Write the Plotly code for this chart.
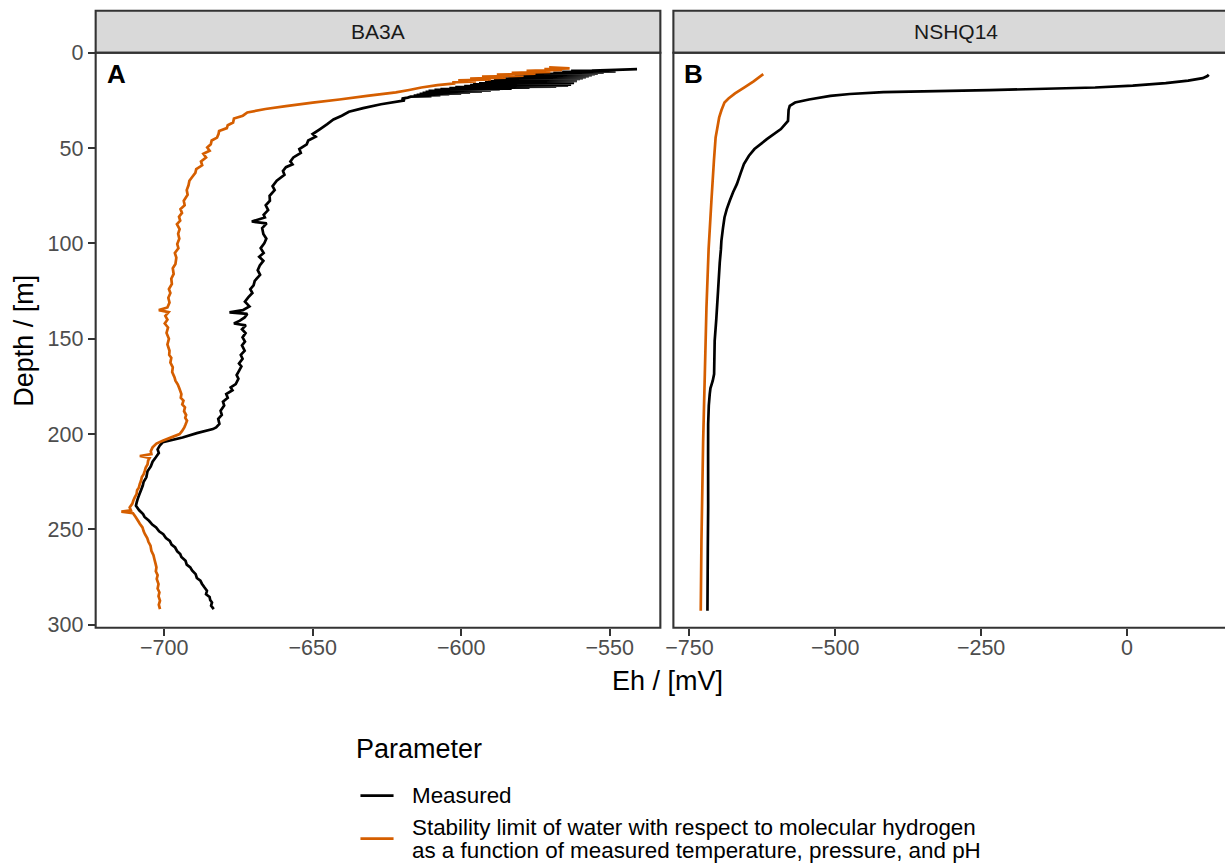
import plotly.graph_objects as go

# ---------------- data ----------------
ba3a_meas_depth = [8.6, 9.0, 9.4,
    9.5, 9.75, 10.0, 10.25, 10.5, 10.75, 11.0, 11.25, 11.5, 11.75, 12.0, 12.25, 12.5, 12.75,
    13.0, 13.25, 13.5, 13.75, 14.0, 14.25, 14.5, 14.75, 15.0, 15.25, 15.5, 15.75, 16.0, 16.25,
    16.5, 16.75, 17.0, 17.25, 17.5, 17.75, 18.0, 18.25, 18.5, 18.75, 19.0, 19.25, 19.5, 19.75,
    20.0, 20.25, 20.5, 20.75, 21.0, 21.25, 21.5, 21.75, 22.0, 22.25, 22.5, 22.75, 23.0, 23.5, 24,
    25, 27, 29, 30.9, 33, 35, 37.4, 40, 42.6, 44, 46, 48, 50.5, 52.5, 54.9, 57, 58.5, 60, 62, 64,
    67.1, 70, 72, 75, 77.6, 80, 82.5, 85, 86.4, 88.5, 89.5, 92, 95.1, 97.5, 100, 102.5, 105, 107,
    109.1, 111.5, 114, 116.5, 119.6, 122, 124, 126, 128.3, 130.5, 133, 135, 136.2, 137, 138.8,
    140.5, 142, 143, 145, 147, 149.3, 151.5, 153.5, 156.3, 158.5, 160.5, 163, 164.5, 166.8, 169,
    171, 173.8, 175.5, 177, 179, 181, 183, 185, 187.8, 190, 192, 194.7, 196.5, 197.4, 199.5,
    201.8, 204.3, 206.1, 208, 210, 212.2, 214.5, 217, 219.5, 222.7, 225, 227, 229.5, 231.5, 234,
    235.5, 237.6, 240, 242, 243.5, 245.5, 247.5, 249, 251, 252.5, 254.5, 256, 258, 259.5, 261.5,
    262.9, 264.5, 266.5, 268.5, 269.9, 271.5, 273.5, 275.5, 276.9, 278.5, 280.5, 282.2, 284,
    285.5, 287, 288.3, 290, 291.8]
ba3a_meas_eh = [-540.8, -548, -556,
    -563, -548, -566, -552, -569, -554, -575, -555, -577, -556, -579, -557, -582, -558,
    -584, -559, -586, -560, -588, -561, -589, -561, -591, -562, -592, -562, -594, -563,
    -596, -563, -597, -564, -599, -568, -602, -577, -604, -583, -607, -587, -609, -590,
    -611, -593, -612, -597, -613, -600, -614, -604, -615, -607, -616, -610, -617, -618, -620,
    -619, -627, -633, -637.8, -640.2, -643, -645.1, -647.5, -650, -649, -651.5, -652, -654.5, -654, -656.5, -657.5, -656.8, -659, -660, -659.5,
    -662.1, -663.5, -662.8, -664.5, -664.4, -665.8, -665, -666.5, -666.1, -670.5, -665.5, -667, -666.6, -665.6, -666.3, -667.5, -666.5, -668,
    -666.6, -667.8, -668.5, -667.7, -669.5, -669.9, -671, -670.3, -671.7, -672.8, -671.3, -673.5, -678, -672, -672.9,
    -674.5, -676.5, -672.5, -673.8, -672.6, -673.6, -672.8, -673.8, -672.9, -674.2, -673.6, -674.8, -674, -674.8, -675.6,
    -675, -675.9, -677.6, -677, -679.1, -678.6, -680.2, -679.8, -681, -680.6, -681.8, -681.4, -682.5, -683.6, -689,
    -693.8, -700.5, -701.5, -702.2, -701.8, -702.8, -703.9, -704.5, -705.6, -706, -706.9, -707.2, -707.8, -708.3, -708.9,
    -709.2, -709.5, -708.4, -707.1, -706.6, -705.1, -704, -702.7, -701.7, -700.3, -699.4, -698.1, -697.5, -696.3, -695.6,
    -694.6, -694.2, -692.8, -692.4, -691.2, -690.6, -689.4, -689, -687.8, -687.3, -686.4, -685.6, -685.9,
    -684.7, -684.5, -683.9, -684.2, -683.3]

ba3a_limit_depth = [7.7, 8.2, 8.6, 9.0, 9.5, 10, 10.5, 11, 11.5, 12, 12.5, 13, 13.5, 14, 14.5, 15,
    15.5, 16, 17, 18.2, 19.5, 20.8, 22.6, 24.5, 26.1, 28, 29.5, 31.3, 33, 34.5, 36.6, 38, 39.5, 41,
    42.6, 44.5, 46, 48, 49.7, 51.4, 53, 54.9, 57, 59, 61, 63, 65, 67.1, 69.5, 72, 74.5, 77.6, 80,
    82, 84, 86, 88, 89.9, 92.5, 95, 97.5, 100.3, 102.5, 105, 107.5, 110.8, 113, 116, 118.5, 121.3,
    124, 126, 128.5, 131, 133.6, 135, 136, 138, 140, 142, 144.1, 147, 150, 153, 156.3, 158.5, 160,
    162.5, 165, 167.5, 170.3, 172, 174, 176, 179, 181, 182.5, 184.5, 186, 188, 190, 191.5, 193,
    195, 196.5, 198.5, 200, 202, 203.5, 205, 207, 209, 210.5, 211.5, 212.5, 214, 216, 217.5, 219.2,
    221, 222.5, 224.5, 226.2, 228, 229.5, 231.5, 233.2, 235, 236.5, 238.5, 240, 240.7, 241.5,
    243.5, 245.5, 247, 249, 251, 252.4, 254.5, 256.5, 258.5, 261.2, 263.5, 265.5, 268, 269.9, 272,
    274, 276, 278.7, 281, 283, 285, 287.4, 289.5, 291.8]
ba3a_limit_eh = [-570.4, -563.5, -572, -566, -578, -570, -583, -575, -588, -579, -593, -585, -597, -590, -601, -595,
    -603, -602, -608, -613.4, -617.5, -622, -631.7, -641, -650, -659, -665.9, -672, -673.5, -676.5, -676.8, -678.6, -678.9, -681.5,
    -681.7, -682.2, -684, -684.3, -685.5, -684.7, -686.8, -685.9, -687.6, -687.2, -689.2, -689.5, -690.5, -691.5, -691.8, -692.4, -692.1, -693.4, -693.1,
    -694.5, -694, -695, -694.6, -695.7, -694.8, -695.3, -694.9, -695.6, -695.2, -696.4, -695.9, -696.2, -697.1, -696.8, -697.6, -697.4,
    -698.4, -697.9, -698.6, -698.2, -698.9, -701.8, -698.5, -699.6, -698.9, -699.8, -698.7, -699.2, -698.4, -698.9, -698.2, -698.3, -697.6,
    -697.9, -697.1, -697.3, -696.5, -696.2, -695.4, -694.9, -694.2, -694.4, -693.5, -693.9, -693, -693.3, -692.6, -692.9, -692.3,
    -692.8, -693.2, -694, -694.8, -698, -700.5, -702.6, -703.9, -704.5, -704.3, -708.2, -704.9, -705.4, -705.6, -706.2, -706.5,
    -706.9, -707.5, -707.8, -708.2, -708.5, -709.1, -709.3, -709.9, -710.4, -710.7, -711.6, -711.2, -714.4, -710.5,
    -709.6, -708.8, -708.2, -707.3, -706.9, -706.5, -705.7, -705.3, -704.6, -704.3, -703.6, -703.3, -702.9, -702.6, -702.8,
    -702.2, -702.5, -701.9, -702.2, -701.6, -701.9, -701.4, -701.8, -701.4]

nshq_meas_depth = [11.5, 12.2, 13.3, 14.6, 15.9, 17.2, 18.2, 19.6, 20.6, 21.6, 22.6, 24.5, 26.1, 27.8,
    30, 35.7, 40, 45.3, 50.5, 54, 58.4, 63, 68.9, 73, 77.6, 82, 86.4, 92, 98.6, 103, 110, 124.8,
    140, 151, 168.5, 172, 176, 179, 185, 194.7, 210, 238.5, 260, 292.7]
nshq_meas_eh = [140.3, 138, 130, 105, 66.5, 10, -54.5, -236, -417.6, -475, -508.4, -545, -568.9, -578,
    -580, -581, -593.2, -617.3, -638.5, -648, -656.6, -662, -668.7, -675, -680.9, -686, -689.9, -692.5,
    -695.2, -696, -698, -700.9, -704, -706.7, -707.7, -710, -714, -715.2, -716.8, -717.9, -718,
    -717.9, -718.5, -719.1]

nshq_limit_depth = [11.2, 15, 18, 21.3, 24, 26.1, 30, 33.9, 40, 44.4, 56.6, 77.6, 103, 133.6, 168.5,
    203.5, 256, 292.7]
nshq_limit_eh = [-623.4, -640, -655, -671.8, -683, -689.9, -695, -699, -702.5, -705.1, -708, -712.3,
    -717.1, -720.8, -723.6, -726.5, -729.4, -730.6]

panels = ["BA3A", "NSHQ14"]
panel_tags = ["A", "B"]
series_names = ["Measured",
                "Stability limit of water with respect to molecular hydrogen",
                "as a function of measured temperature, pressure, and pH"]
series_colors = ["#000000", "#D55E00"]
x1_ticks = [-700, -650, -600, -550]
x2_ticks = [-750, -500, -250, 0]
y_ticks = [0, 50, 100, 150, 200, 250, 300]

# ---------------- geometry ----------------
W, H = 1225, 863
# target pixel positions -> paper fractions (corrected for the observed page placement)
KX, OX = 0.9905, 8.6
KY, OY = 0.977, 10.2
def px(x): return ((x - OX) / KX) / W
def py(y): return 1 - ((y - OY) / KY) / H

P1 = (96, 659)
P2 = (672, 1235)
PT, PB = 52, 627
ST = 10

FONT = "Liberation Sans, Arial, Helvetica, sans-serif"
BORDER = "#333333"
LW = 2.1
DLW = 2.7

fig = go.Figure()
data = [
    (ba3a_meas_eh, ba3a_meas_depth, 0, "x", "y"),
    (ba3a_limit_eh, ba3a_limit_depth, 1, "x", "y"),
    (nshq_meas_eh, nshq_meas_depth, 0, "x2", "y2"),
    (nshq_limit_eh, nshq_limit_depth, 1, "x2", "y2"),
]
for xs, ys, si, xa, ya in data:
    fig.add_trace(go.Scatter(x=xs, y=ys, mode="lines", xaxis=xa, yaxis=ya,
                             line=dict(color=series_colors[si], width=DLW, simplify=False),
                             name=series_names[si], showlegend=False, hoverinfo="skip"))

tickstyle = dict(ticks="outside", ticklen=7, tickwidth=LW, tickcolor=BORDER,
                 showgrid=False, zeroline=False, showline=False,
                 tickfont=dict(family=FONT, size=21.5, color="#4D4D4D"))

x2_right = -777.5 + (1225 - 672) / 0.5848

fig.update_layout(
    width=W, height=H, margin=dict(l=0, r=0, t=0, b=0),
    paper_bgcolor="white", plot_bgcolor="white", showlegend=False,
    xaxis=dict(domain=[px(P1[0]), px(P1[1])], range=[-723.06, -532.95], anchor="y",
               tickvals=x1_ticks, ticklabelstandoff=-6, **tickstyle),
    xaxis2=dict(domain=[px(P2[0]), 1.0], range=[-777.5, x2_right], anchor="y2",
                tickvals=x2_ticks, ticklabelstandoff=-6, **tickstyle),
    yaxis=dict(domain=[py(PB), py(PT)], range=[301.57, 0], anchor="x",
               tickvals=y_ticks, ticklabelstandoff=0, **tickstyle),
    yaxis2=dict(domain=[py(PB), py(PT)], range=[301.57, 0], anchor="x2",
                showticklabels=False, ticks="", showgrid=False, zeroline=False, matches="y"),
)

shapes = []
annotations = []
for (x0, x1), name, tag in zip([P1, P2], panels, panel_tags):
    shapes.append(dict(type="rect", xref="paper", yref="paper", x0=px(x0), x1=px(x1),
                       y0=py(PT), y1=py(ST), fillcolor="#D9D9D9",
                       line=dict(color=BORDER, width=LW), layer="below"))
    shapes.append(dict(type="rect", xref="paper", yref="paper", x0=px(x0), x1=px(x1),
                       y0=py(PB), y1=py(PT), fillcolor="rgba(0,0,0,0)",
                       line=dict(color=BORDER, width=LW), layer="above"))
    annotations.append(dict(text=name, xref="paper", yref="paper", x=px((x0 + x1) / 2),
                            y=py((ST + PT) / 2), showarrow=False, xanchor="center", yanchor="middle",
                            font=dict(family=FONT, size=21, color="#1A1A1A")))
    annotations.append(dict(text="<b>" + tag + "</b>", xref="paper", yref="paper", x=px(x0 + 9),
                            y=py(73), showarrow=False, xanchor="left", yanchor="middle",
                            font=dict(family=FONT, size=26, color="black")))

annotations.append(dict(text="Eh / [mV]", xref="paper", yref="paper", x=px(666), y=py(680),
                        showarrow=False, xanchor="center", yanchor="middle",
                        font=dict(family=FONT, size=27, color="black")))
annotations.append(dict(text="Depth / [m]", xref="paper", yref="paper", x=px(25), y=py(339.5),
                        showarrow=False, xanchor="center", yanchor="middle", textangle=-90,
                        font=dict(family=FONT, size=27, color="black")))

# legend
annotations.append(dict(text="Parameter", xref="paper", yref="paper", x=px(354), y=py(748),
                        showarrow=False, xanchor="left", yanchor="middle",
                        font=dict(family=FONT, size=27, color="black")))
for col, ky in zip(series_colors, [795, 838]):
    shapes.append(dict(type="line", xref="paper", yref="paper", x0=px(360), x1=px(393),
                       y0=py(ky), y1=py(ky), line=dict(color=col, width=DLW)))
for txt, ty in zip(series_names, [795, 827, 850]):
    annotations.append(dict(text=txt, xref="paper", yref="paper", x=px(409), y=py(ty),
                            showarrow=False, xanchor="left", yanchor="middle", align="left",
                            font=dict(family=FONT, size=22.4, color="black")))

fig.update_layout(shapes=shapes, annotations=annotations)
fig.write_html("out.html")
